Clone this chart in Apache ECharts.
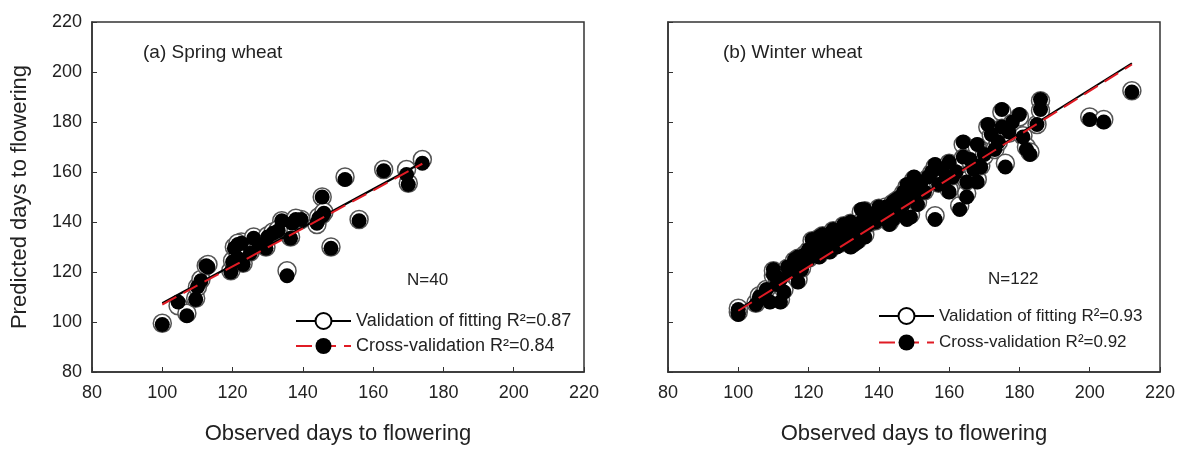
<!DOCTYPE html>
<html>
<head>
<meta charset="utf-8">
<script src="https://cdn.jsdelivr.net/npm/echarts@6/dist/echarts.min.js"></script>
<style>
html,body{margin:0;padding:0;background:#fff;}
#chart{width:1179px;height:450px;}
</style>
</head>
<body>
<div id="chart"></div>
<script>
// ---------- Axis ticks ----------
var axisMin = 80, axisMax = 220, axisStep = 20;

// ---------- (a) Spring wheat ----------
var leftObs = [100,104.5,107,109.5,110,111,112.5,113,119.5,120,
               120.5,122.5,123,125,126,129.5,130,131.5,134,137,
               136.5,139.5,135.5,144,145.5,145.5,148,156,152,163,
               169.5,170,174,121.5,127.5,133,138,144.5,146,121.5];
var leftVal = [99.5,106.5,103.5,109.5,114,117,122.5,123,120.5,124.5,
               130,132,123.5,128,134,130,134.5,136,140.5,140,
               134,141,120.5,139,143,150,130,141,158,161,
               161,155.5,165,131.5,131,137,141.5,142,144,126];
var leftCv  = [99,108,102.5,109,114,116.5,122.5,122,120,124,
               129.5,131.5,123,127.5,133.5,129.5,134,135.5,140.5,139.5,
               133.5,141,118.5,139.5,142.5,150,129.5,140.5,157,160.5,
               159,155,163.5,131,130.5,136.5,141,141.5,143.5,125.5];
var leftFitX = [100, 174];
var leftValFitY = [107.5, 163.8];
var leftCvFitY = [107, 163.3];

// ---------- (b) Winter wheat ----------
var rightObs = [100,100,105,106,107,108,109,110,110,111,
                111,112,112,113,114,115,116,117,117,118,
                118,119,120,120,121,122,123,123,124,124,
                125,126,126,127,127,128,128,129,129,130,
                130,131,131,132,132,133,133,134,134,135,
                135,136,136,137,137,138,139,140,140,141,
                142,142,143,144,144,145,145,146,146,147,
                147,148,148,149,149,150,150,151,151,152,
                153,154,155,156,156,157,158,159,160,160,
                161,162,163,164,164,165,165,166,167,168,
                168,169,170,171,172,173,174,175,175,176,
                177,178,180,181,182,183,185,186,186,200,
                204,212];
var rightVal = [104,105.5,107.5,110.5,110.5,113,109,118.5,120.5,115.5,
                118,109,117,113,121.5,120,124.5,117,125.5,124,
                121.5,127,128.5,125.5,132.5,130,127,133.5,134.5,131,
                130.5,129,134,136.5,132.5,133,131,131.5,136,138.5,
                133.5,132.5,137,139.5,131,132,136,133,138,144,
                140,135,144.5,142,139.5,143,140.5,145.5,142.5,144,
                146,142,140,147.5,142,148.5,145,149.5,145,151.5,
                147.5,154,142.5,143,152.5,157,150,153.5,148,155.5,
                152.5,157.5,159.5,142.5,162,155.5,160.5,157.5,153,163.5,
                158.5,160.5,146.5,171,165.5,151.5,156.5,164.5,161,157,
                170,162.5,166.5,178,174.5,169,172,184,177.5,163.5,
                175.5,179.5,182,174.5,170,168,179,188.5,184.5,182,
                181,192.5];
var rightCv = [103,105,107,110,110,113,108,119,121,115,
               118,108,117,112,122,120,125,116,126,124,
               121,127,129,125,133,130,126,134,135,131,
               130,128,134,137,132,133,130,131,136,139,
               133,132,137,140,130,131,136,132,138,145,
               140,134,145,142,139,143,140,146,142,144,
               146,141,139,148,141,149,145,150,144,152,
               147,155,141,142,153,158,150,154,147,156,
               152,158,160,141,163,155,161,157,152,164,
               158,160,145,172,166,150,156,165,161,156,
               171,162,167,179,175,169,172,185,178,162,
               176,180,183,174,169,167,179,189,185,181,
               180,192];
var rightFitX = [100, 212];
var rightValFitY = [105, 203.5];
var rightCvFitY = [104.5, 203];

// ---------- Texts ----------
var panelTitles = ['(a) Spring wheat', '(b) Winter wheat'];
var nLabels = ['N=40', 'N=122'];
var valNames = ['Validation of fitting R\u00B2=0.87', 'Validation of fitting R\u00B2=0.93'];
var cvNames = ['Cross-validation R\u00B2=0.84', 'Cross-validation R\u00B2=0.92'];
var xTitle = 'Observed days to flowering';
var yTitle = 'Predicted days to flowering';

function pairs(xs, ys) {
  return xs.map(function (x, i) { return [x, ys[i]]; });
}

var FONT = '"Liberation Sans", Arial, sans-serif';
var AX = '#333';

function xAxisCfg(idx) {
  return {
    type: 'value', gridIndex: idx, min: axisMin, max: axisMax, interval: axisStep,
    name: xTitle, nameLocation: 'middle', nameGap: 51,
    nameTextStyle: { fontSize: 22, color: '#222', fontFamily: FONT },
    axisLine: { show: true, lineStyle: { color: AX, width: 1.5 } },
    axisTick: { show: true, inside: true, length: 5, lineStyle: { color: AX, width: 1 } },
    axisLabel: { show: true, fontSize: 18, color: '#222', fontFamily: FONT, margin: 12, showMinLabel: true, showMaxLabel: true },
    splitLine: { show: false }
  };
}
function yAxisCfg(idx, showLabel) {
  var a = {
    type: 'value', gridIndex: idx, min: axisMin, max: axisMax, interval: axisStep,
    axisLine: { show: true, lineStyle: { color: AX, width: 1.5 } },
    axisTick: { show: true, inside: true, length: 5, lineStyle: { color: AX, width: 1 } },
    axisLabel: { show: showLabel, fontSize: 18, color: '#222', fontFamily: FONT, margin: 10 },
    splitLine: { show: false }
  };
  if (showLabel) {
    a.name = yTitle; a.nameLocation = 'middle'; a.nameGap = 61;
    a.nameTextStyle = { fontSize: 22, color: '#222', fontFamily: FONT };
  }
  return a;
}

function panelSeries(idx, obs, val, cv, fitX, valFit, cvFit) {
  return [
    { name: 'val-pts-' + idx, type: 'scatter', xAxisIndex: idx, yAxisIndex: idx,
      data: pairs(obs, val), symbol: 'circle', symbolSize: 18, z: 2,
      itemStyle: { color: '#fff', borderColor: '#555', borderWidth: 1.5, opacity: 1 } },
    { name: 'cv-pts-' + idx, type: 'scatter', xAxisIndex: idx, yAxisIndex: idx,
      data: pairs(obs, cv), symbol: 'circle', symbolSize: 15, z: 3,
      itemStyle: { color: '#000', opacity: 1 } },
    { name: valNames[idx], type: 'line', xAxisIndex: idx, yAxisIndex: idx,
      data: pairs(fitX, valFit), symbol: 'circle', showSymbol: false, z: 4,
      lineStyle: { color: '#000', width: 2, type: 'solid' },
      itemStyle: { color: '#fff', borderColor: '#000', borderWidth: 1.5 } },
    { name: cvNames[idx], type: 'line', xAxisIndex: idx, yAxisIndex: idx,
      data: pairs(fitX, cvFit), symbol: 'circle', showSymbol: false, z: 5,
      lineStyle: { color: '#e01b24', width: 2, type: [16, 8] },
      itemStyle: { color: '#000', borderColor: '#000', borderWidth: 0 } }
  ];
}

var chart = echarts.init(document.getElementById('chart'));
chart.setOption({
  animation: false,
  backgroundColor: '#fff',
  textStyle: { fontFamily: FONT },
  grid: [
    { left: 92, top: 22, width: 492, height: 354, show: true, borderColor: AX, borderWidth: 1.5, backgroundColor: 'transparent' },
    { left: 668, top: 22, width: 492, height: 354, show: true, borderColor: AX, borderWidth: 1.5, backgroundColor: 'transparent' }
  ],
  xAxis: [xAxisCfg(0), xAxisCfg(1)],
  yAxis: [yAxisCfg(0, true), yAxisCfg(1, false)],
  legend: [
    { data: [valNames[0], cvNames[0]], orient: 'vertical', left: 290, top: 307,
      itemWidth: 55, itemHeight: 20, itemGap: 7,
      textStyle: { fontSize: 18, color: '#222', fontFamily: FONT }, selectedMode: false },
    { data: [valNames[1], cvNames[1]], orient: 'vertical', left: 873, top: 302,
      itemWidth: 55, itemHeight: 20, itemGap: 9,
      textStyle: { fontSize: 17, color: '#222', fontFamily: FONT }, selectedMode: false }
  ],
  graphic: [
    { type: 'text', x: 143, y: 53, style: { text: panelTitles[0], font: '19px ' + FONT, fill: '#222', verticalAlign: 'middle' } },
    { type: 'text', x: 723, y: 53, style: { text: panelTitles[1], font: '19px ' + FONT, fill: '#222', verticalAlign: 'middle' } },
    { type: 'text', x: 407, y: 280, style: { text: nLabels[0], font: '17px ' + FONT, fill: '#222', verticalAlign: 'middle' } },
    { type: 'text', x: 988, y: 279, style: { text: nLabels[1], font: '17px ' + FONT, fill: '#222', verticalAlign: 'middle' } }
  ],
  series: [].concat(
    panelSeries(0, leftObs, leftVal, leftCv, leftFitX, leftValFitY, leftCvFitY),
    panelSeries(1, rightObs, rightVal, rightCv, rightFitX, rightValFitY, rightCvFitY)
  )
});
</script>
</body>
</html>
